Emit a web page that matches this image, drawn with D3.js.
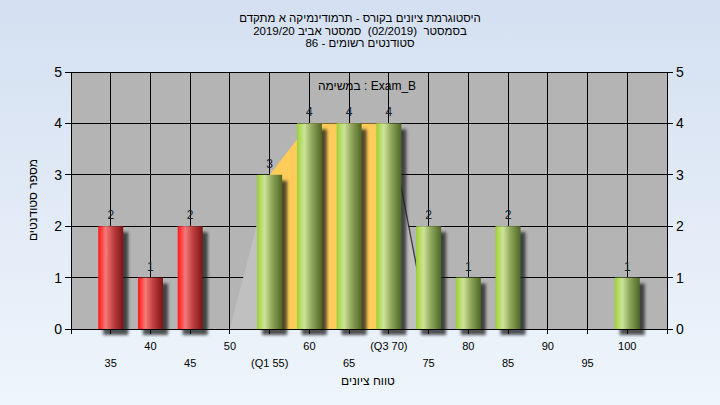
<!DOCTYPE html>
<html><head><meta charset="utf-8">
<script src="https://cdn.jsdelivr.net/npm/d3@7"></script>
<style>html,body{margin:0;padding:0;width:720px;height:405px;overflow:hidden;}svg{display:block;}text{white-space:pre;}</style>
</head><body>
<script>
// ---- data ----
const categories = [35,40,45,50,55,60,65,70,75,80,85,90,95,100];
const counts     = [2, 1, 2, 0, 3, 4, 4, 4, 2, 1, 2, 0, 0, 1];
const tickLabels = ["35","40","45","50","(Q1 55)","60","65","(Q3 70)","75","80","85","90","95","100"];
const passMark = 55;
const q1 = 55, q3 = 70;
const envelopeCats = [50,55,60,65,70,75];
const envelopeVals = [0, 3, 4, 4, 4, 0];
const yTicks = [0,1,2,3,4,5];
const titleLines = ["היסטוגרמת ציונים בקורס - תרמודינמיקה א מתקדם",
                    "בסמסטר  (02/2019)  סמסטר אביב 2019/20",
                    "סטודנטים רשומים - 86"];
const subTitle = "במשימה : Exam_B";
const yTitle = "מספר סטודנטים";
const xTitle = "טווח ציונים";

const W = 720, H = 405;
const L = 71, R = 667, T = 72, B = 329;
const FONT = "'Liberation Sans','DejaVu Sans',Arial,sans-serif";

const svg = d3.select("body").append("svg").attr("width", W).attr("height", H);
const defs = svg.append("defs");

const bg = defs.append("linearGradient").attr("id","bg").attr("x1",0).attr("y1",0).attr("x2",0).attr("y2",1);
bg.append("stop").attr("offset","0%").attr("stop-color","#d4e0f1");
bg.append("stop").attr("offset","100%").attr("stop-color","#eef5fc");

function grad(id, stops){
  const g = defs.append("linearGradient").attr("id",id).attr("x1",0).attr("y1",0).attr("x2",1).attr("y2",0);
  stops.forEach(s => g.append("stop").attr("offset",s[0]).attr("stop-color",s[1]));
}
grad("red",   [["0%","#ff1a1a"],["12%","#ff3a3a"],["30%","#f47a7a"],["60%","#c24040"],["100%","#7c1515"]]);
grad("green", [["0%","#9bcd34"],["12%","#b3da5c"],["30%","#cbe497"],["60%","#8ea55a"],["100%","#4e6925"]]);

const blur = defs.append("filter").attr("id","blur").attr("x","-50%").attr("y","-50%").attr("width","200%").attr("height","200%");
blur.append("feGaussianBlur").attr("stdDeviation",1.8);

svg.append("rect").attr("width",W).attr("height",H).attr("fill","url(#bg)");

const x = d3.scalePoint().domain(categories).range([L,R]).padding(1);
const y = d3.scaleLinear().domain([0,5]).range([B,T]);

// plot background
svg.append("rect").attr("x",L).attr("y",T).attr("width",R-L).attr("height",B-T).attr("fill","#b4b4b4");

// gridlines
const grid = svg.append("g").attr("stroke","#000").attr("stroke-width",1).attr("shape-rendering","crispEdges");
grid.selectAll("line.h").data(yTicks).join("line").attr("class","h")
  .attr("x1",L).attr("x2",R).attr("y1",d=>y(d)).attr("y2",d=>y(d));
grid.selectAll("line.v").data(categories).join("line").attr("class","v")
  .attr("x1",d=>x(d)).attr("x2",d=>x(d)).attr("y1",T).attr("y2",B);

// envelope areas
const env = envelopeCats.map((c,i)=>({c, v:envelopeVals[i]}));
const area = d3.area().x(d=>x(d.c)).y0(y(0)).y1(d=>y(d.v));
const leftPart  = env.filter(d=>d.c<=q1);
const midPart   = env.filter(d=>d.c>=q1 && d.c<=q3);
const rightPart = env.filter(d=>d.c>=q3);
svg.append("path").attr("d",area(leftPart)).attr("fill","#c0c0c0");
svg.append("path").attr("d",area(rightPart)).attr("fill","#c0c0c0");
svg.append("path").attr("d",area(midPart)).attr("fill","#ffcc5a");
svg.append("path").attr("d",d3.line().x(d=>x(d.c)).y(d=>y(d.v))(rightPart))
  .attr("fill","none").attr("stroke","#3a3a3a").attr("stroke-width",1.3);

// bars
const data = categories.map((c,i)=>({c, v:counts[i]}));
const bw = 25;
const bars = data.filter(d=>d.v>0);
svg.append("g").selectAll("rect").data(bars).join("rect")
  .attr("x",d=>x(d.c)-bw/2+5).attr("y",d=>y(d.v)+6)
  .attr("width",bw).attr("height",d=>y(0)-y(d.v))
  .attr("fill","#1e1e1e").attr("opacity",0.75).attr("filter","url(#blur)");
svg.append("g").selectAll("rect").data(bars).join("rect")
  .attr("x",d=>x(d.c)-bw/2).attr("y",d=>y(d.v))
  .attr("width",bw).attr("height",d=>y(0)-y(d.v))
  .attr("fill",d=>d.c<passMark?"url(#red)":"url(#green)");
svg.append("g").selectAll("text").data(bars).join("text")
  .attr("x",d=>x(d.c)).attr("y",d=>y(d.v)-7)
  .attr("text-anchor","middle").attr("font-family",FONT).attr("font-size",12)
  .attr("fill","#10202e").text(d=>d.v);

// axes
const axisG = svg.append("g").attr("stroke","#000").attr("shape-rendering","crispEdges");
axisG.append("line").attr("x1",L).attr("x2",L).attr("y1",T).attr("y2",B+5);
axisG.append("line").attr("x1",R).attr("x2",R).attr("y1",T).attr("y2",B+5);
axisG.append("line").attr("x1",L).attr("x2",R).attr("y1",B).attr("y2",B);
axisG.selectAll("line.lt").data(yTicks).join("line").attr("class","lt")
  .attr("x1",L-6).attr("x2",L).attr("y1",d=>y(d)).attr("y2",d=>y(d));
axisG.selectAll("line.rt").data(yTicks).join("line").attr("class","rt")
  .attr("x1",R).attr("x2",R+6).attr("y1",d=>y(d)).attr("y2",d=>y(d));
axisG.selectAll("line.bt").data(categories).join("line").attr("class","bt")
  .attr("x1",d=>x(d)).attr("x2",d=>x(d)).attr("y1",B).attr("y2",B+5);

const txt = svg.append("g").attr("font-family",FONT).attr("fill","#000");
txt.selectAll("text.yl").data(yTicks).join("text").attr("class","yl")
  .attr("x",L-9).attr("y",d=>y(d)+5).attr("text-anchor","end").attr("font-size",14).text(d=>d);
txt.selectAll("text.yr").data(yTicks).join("text").attr("class","yr")
  .attr("x",R+9).attr("y",d=>y(d)+5).attr("text-anchor","start").attr("font-size",14).text(d=>d);
txt.selectAll("text.xl").data(categories).join("text").attr("class","xl")
  .attr("x",d=>x(d)).attr("y",(d,i)=> i%2===1 ? 349.5 : 366.5)
  .attr("text-anchor","middle").attr("font-size",11).text((d,i)=>tickLabels[i]);

// titles
titleLines.forEach((t,i)=>{
  txt.append("text").attr("x",360).attr("y",22+i*12.5).attr("text-anchor","middle")
    .attr("direction","rtl").attr("font-size",11.5).text(t);
});
txt.append("text").attr("x",367).attr("y",90).attr("text-anchor","middle")
  .attr("font-size",12).text(subTitle);
txt.append("text").attr("x",368).attr("y",385).attr("text-anchor","middle")
  .attr("direction","rtl").attr("font-size",12).text(xTitle);
txt.append("text").attr("transform","translate(37,200) rotate(-90)").attr("text-anchor","middle")
  .attr("direction","rtl").attr("font-size",12).text(yTitle);
</script>
</body></html>
